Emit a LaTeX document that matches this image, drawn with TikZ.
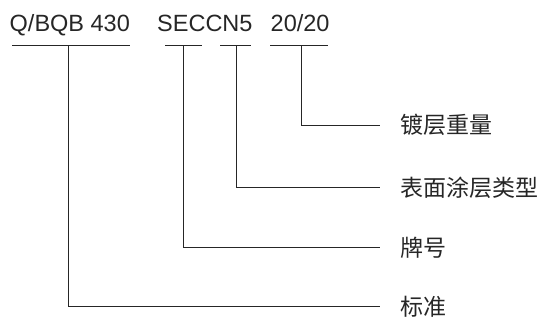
\documentclass[tikz,border=0pt]{standalone}
\usepackage{fontspec}
\setmainfont{Liberation Sans}
\newfontfamily\cjk{Noto Sans CJK SC}
\begin{document}
\begin{tikzpicture}[x=1pt,y=-1pt,
  code/.style={font=\fontsize{23.5}{28}\selectfont, inner sep=0pt, anchor=base west, text=black!85},
  lab/.style={font=\cjk\fontsize{23}{27}\selectfont, inner sep=0pt, anchor=west, text=black!85},
  ln/.style={line width=0.9pt, black!85}]
\useasboundingbox (0,0) rectangle (544,327);
% codes
\node[code] (c1) at (9.5,31) {Q/BQB 430};
\node[code] (c2) at (157,31) {SECCN5};
\node[code] (c3) at (270.5,31) {20/20};
% underline segments
\coordinate (u1a) at (12,45); \coordinate (u1b) at (130,45);
\coordinate (u2a) at (165,45); \coordinate (u2b) at (202,45);
\coordinate (u3a) at (220,45); \coordinate (u3b) at (251,45);
\coordinate (u4a) at (270,45); \coordinate (u4b) at (328,45);
\draw[ln] (u1a) -- (u1b);
\draw[ln] (u2a) -- (u2b);
\draw[ln] (u3a) -- (u3b);
\draw[ln] (u4a) -- (u4b);
% stems
\coordinate (s1) at (68,45);
\coordinate (s2) at (183,45);
\coordinate (s3) at (236,45);
\coordinate (s4) at (301,45);
% labels
\node[lab] (l4) at (400,125) {镀层重量};
\node[lab] (l3) at (400,187.5) {表面涂层类型};
\node[lab] (l2) at (400,247.5) {牌号};
\node[lab] (l1) at (400,306.5) {标准};
\coordinate (e4) at (380,125);
\coordinate (e3) at (380,187.5);
\coordinate (e2) at (380,247.5);
\coordinate (e1) at (380,306.5);
\draw[ln] (s4) |- (e4);
\draw[ln] (s3) |- (e3);
\draw[ln] (s2) |- (e2);
\draw[ln] (s1) |- (e1);
\end{tikzpicture}
\end{document}
